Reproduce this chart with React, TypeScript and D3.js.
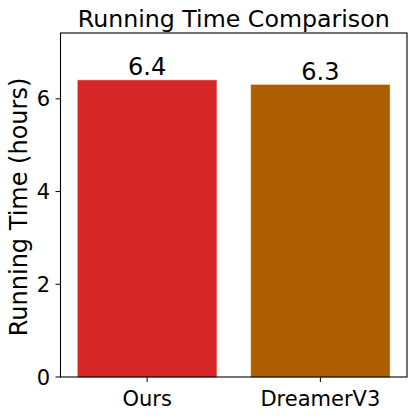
import React from "react";
import * as d3 from "d3";

// chart data
const methods = ["Ours", "DreamerV3"];
const hours = [6.4, 6.3];
const barColors = ["#d62728", "#ad5f00"];
const yTicks = [0, 2, 4, 6];

const W = 416;
const H = 419;
const margin = { top: 33, right: 9, bottom: 42, left: 60.5 };
const FONT = "DejaVu Sans, sans-serif";

const App = () => {
  const innerW = W - margin.left - margin.right;
  const innerH = H - margin.top - margin.bottom;

  const x = d3.scaleBand<string>().domain(methods).range([0, innerW]).paddingInner(0.2).paddingOuter(0.1);
  const y = d3.scaleLinear().domain([0, 7.42]).range([innerH, 0]);

  return (
    <svg width={W} height={H} style={{ position: "absolute", left: 0, top: 0, background: "#fff" }}>
      <text x={margin.left + innerW / 2} y={27} textAnchor="middle" fontFamily={FONT} fontSize={23.7}>
        Running Time Comparison
      </text>
      <g transform={`translate(${margin.left},${margin.top})`}>
        {/* bars */}
        {methods.map((m, i) => (
          <g key={m}>
            <rect
              x={x(m)}
              y={y(hours[i])}
              width={x.bandwidth()}
              height={innerH - y(hours[i])}
              fill={barColors[i]}
              stroke={barColors[i]}
              strokeOpacity={0.5}
              strokeWidth={1}
            />
            <text
              x={(x(m) as number) + x.bandwidth() / 2}
              y={y(hours[i]) - 5}
              textAnchor="middle"
              fontFamily={FONT}
              fontSize={24}
            >
              {hours[i].toFixed(1)}
            </text>
          </g>
        ))}

        {/* frame */}
        <rect x={0} y={0} width={innerW} height={innerH} fill="none" stroke="#000" strokeWidth={1.1} />

        {/* y axis */}
        {yTicks.map((t) => (
          <g key={t} transform={`translate(0,${y(t)})`}>
            <line x1={-5} x2={0} stroke="#000" strokeWidth={1} />
            <text x={-10.5} dy="0.36em" textAnchor="end" fontFamily={FONT} fontSize={21}>
              {t}
            </text>
          </g>
        ))}

        {/* x axis */}
        {methods.map((m) => (
          <g key={m} transform={`translate(${(x(m) as number) + x.bandwidth() / 2},${innerH})`}>
            <line y1={0} y2={5} stroke="#000" strokeWidth={1} />
            <text y={29} textAnchor="middle" fontFamily={FONT} fontSize={21}>
              {m}
            </text>
          </g>
        ))}

        <text
          transform={`translate(${-33.5},${innerH / 2 + 2}) rotate(-90)`}
          textAnchor="middle"
          fontFamily={FONT}
          fontSize={24}
        >
          Running Time (hours)
        </text>
      </g>
    </svg>
  );
};

export default App;
